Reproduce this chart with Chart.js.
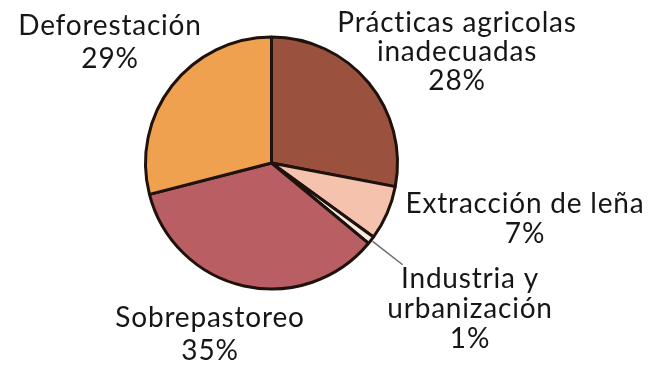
<!DOCTYPE html>
<html>
<head>
<meta charset="utf-8">
<script src="https://cdn.jsdelivr.net/npm/chart.js@4"></script>
<style>
  html, body { margin: 0; padding: 0; background: #fff; }
  #wrap { width: 663px; height: 366px; }
</style>
</head>
<body>
<div id="wrap"><canvas id="myChart" width="663" height="366"></canvas></div>
<script>
// data (clockwise from 12 o'clock)
const categories = ['Prácticas agricolas inadecuadas', 'Extracción de leña', 'Industria y urbanización', 'Sobrepastoreo', 'Deforestación'];
const labelLines = [
    ['Prácticas agricolas', 'inadecuadas'],
    ['Extracción de leña'],
    ['Industria y', 'urbanización'],
    ['Sobrepastoreo'],
    ['Deforestación']
];
const percentages = [28, 7, 1, 35, 29];
const colors = ['#9a523f', '#f5c2ae', '#f7ebe4', '#b95e63', '#efa150'];

// where each text block sits: centre x, first baseline y, line step
const textPos = [
    { x: 457, y: 32, step: 29 },
    { x: 525, y: 213, step: 30 },
    { x: 470, y: 288, step: 30 },
    { x: 210, y: 327, step: 33 },
    { x: 110, y: 35, step: 33 }
];

const labelPlugin = {
    id: 'pieLabels',
    afterDraw(chart) {
        const c = chart.ctx;
        const arcs = chart.getDatasetMeta(0).data;

        // leader line for the thin slice
        const a = arcs[2];
        const mid = (a.startAngle + a.endAngle) / 2;
        c.save();
        c.strokeStyle = '#6b6b6b';
        c.lineWidth = 1.5;
        c.beginPath();
        c.moveTo(a.x + Math.cos(mid) * (a.outerRadius + 2), a.y + Math.sin(mid) * (a.outerRadius + 2));
        c.lineTo(a.x + Math.cos(mid) * (a.outerRadius + 40), a.y + Math.sin(mid) * (a.outerRadius + 40));
        c.stroke();

        c.fillStyle = '#161616';
        c.font = '28px Lato';
        c.letterSpacing = '0.8px';
        c.textAlign = 'center';
        c.textBaseline = 'alphabetic';
        labelLines.forEach((lines, i) => {
            const p = textPos[i];
            const all = lines.concat([percentages[i] + '%']);
            all.forEach((t, j) => c.fillText(t, p.x, p.y + j * p.step));
        });
        c.restore();
    }
};

const ctx = document.getElementById('myChart').getContext('2d');
const myChart = new Chart(ctx, {
    type: 'pie',
    data: {
        labels: categories,
        datasets: [{
            data: percentages,
            backgroundColor: colors,
            borderColor: '#1f110c',
            borderWidth: 3
        }]
    },
    options: {
        responsive: false,
        animation: false,
        radius: 126,
        layout: { padding: { left: 0, right: 120, top: 0, bottom: 40 } },
        plugins: {
            legend: { display: false },
            tooltip: { enabled: false }
        }
    },
    plugins: [labelPlugin]
});
</script>
</body>
</html>
